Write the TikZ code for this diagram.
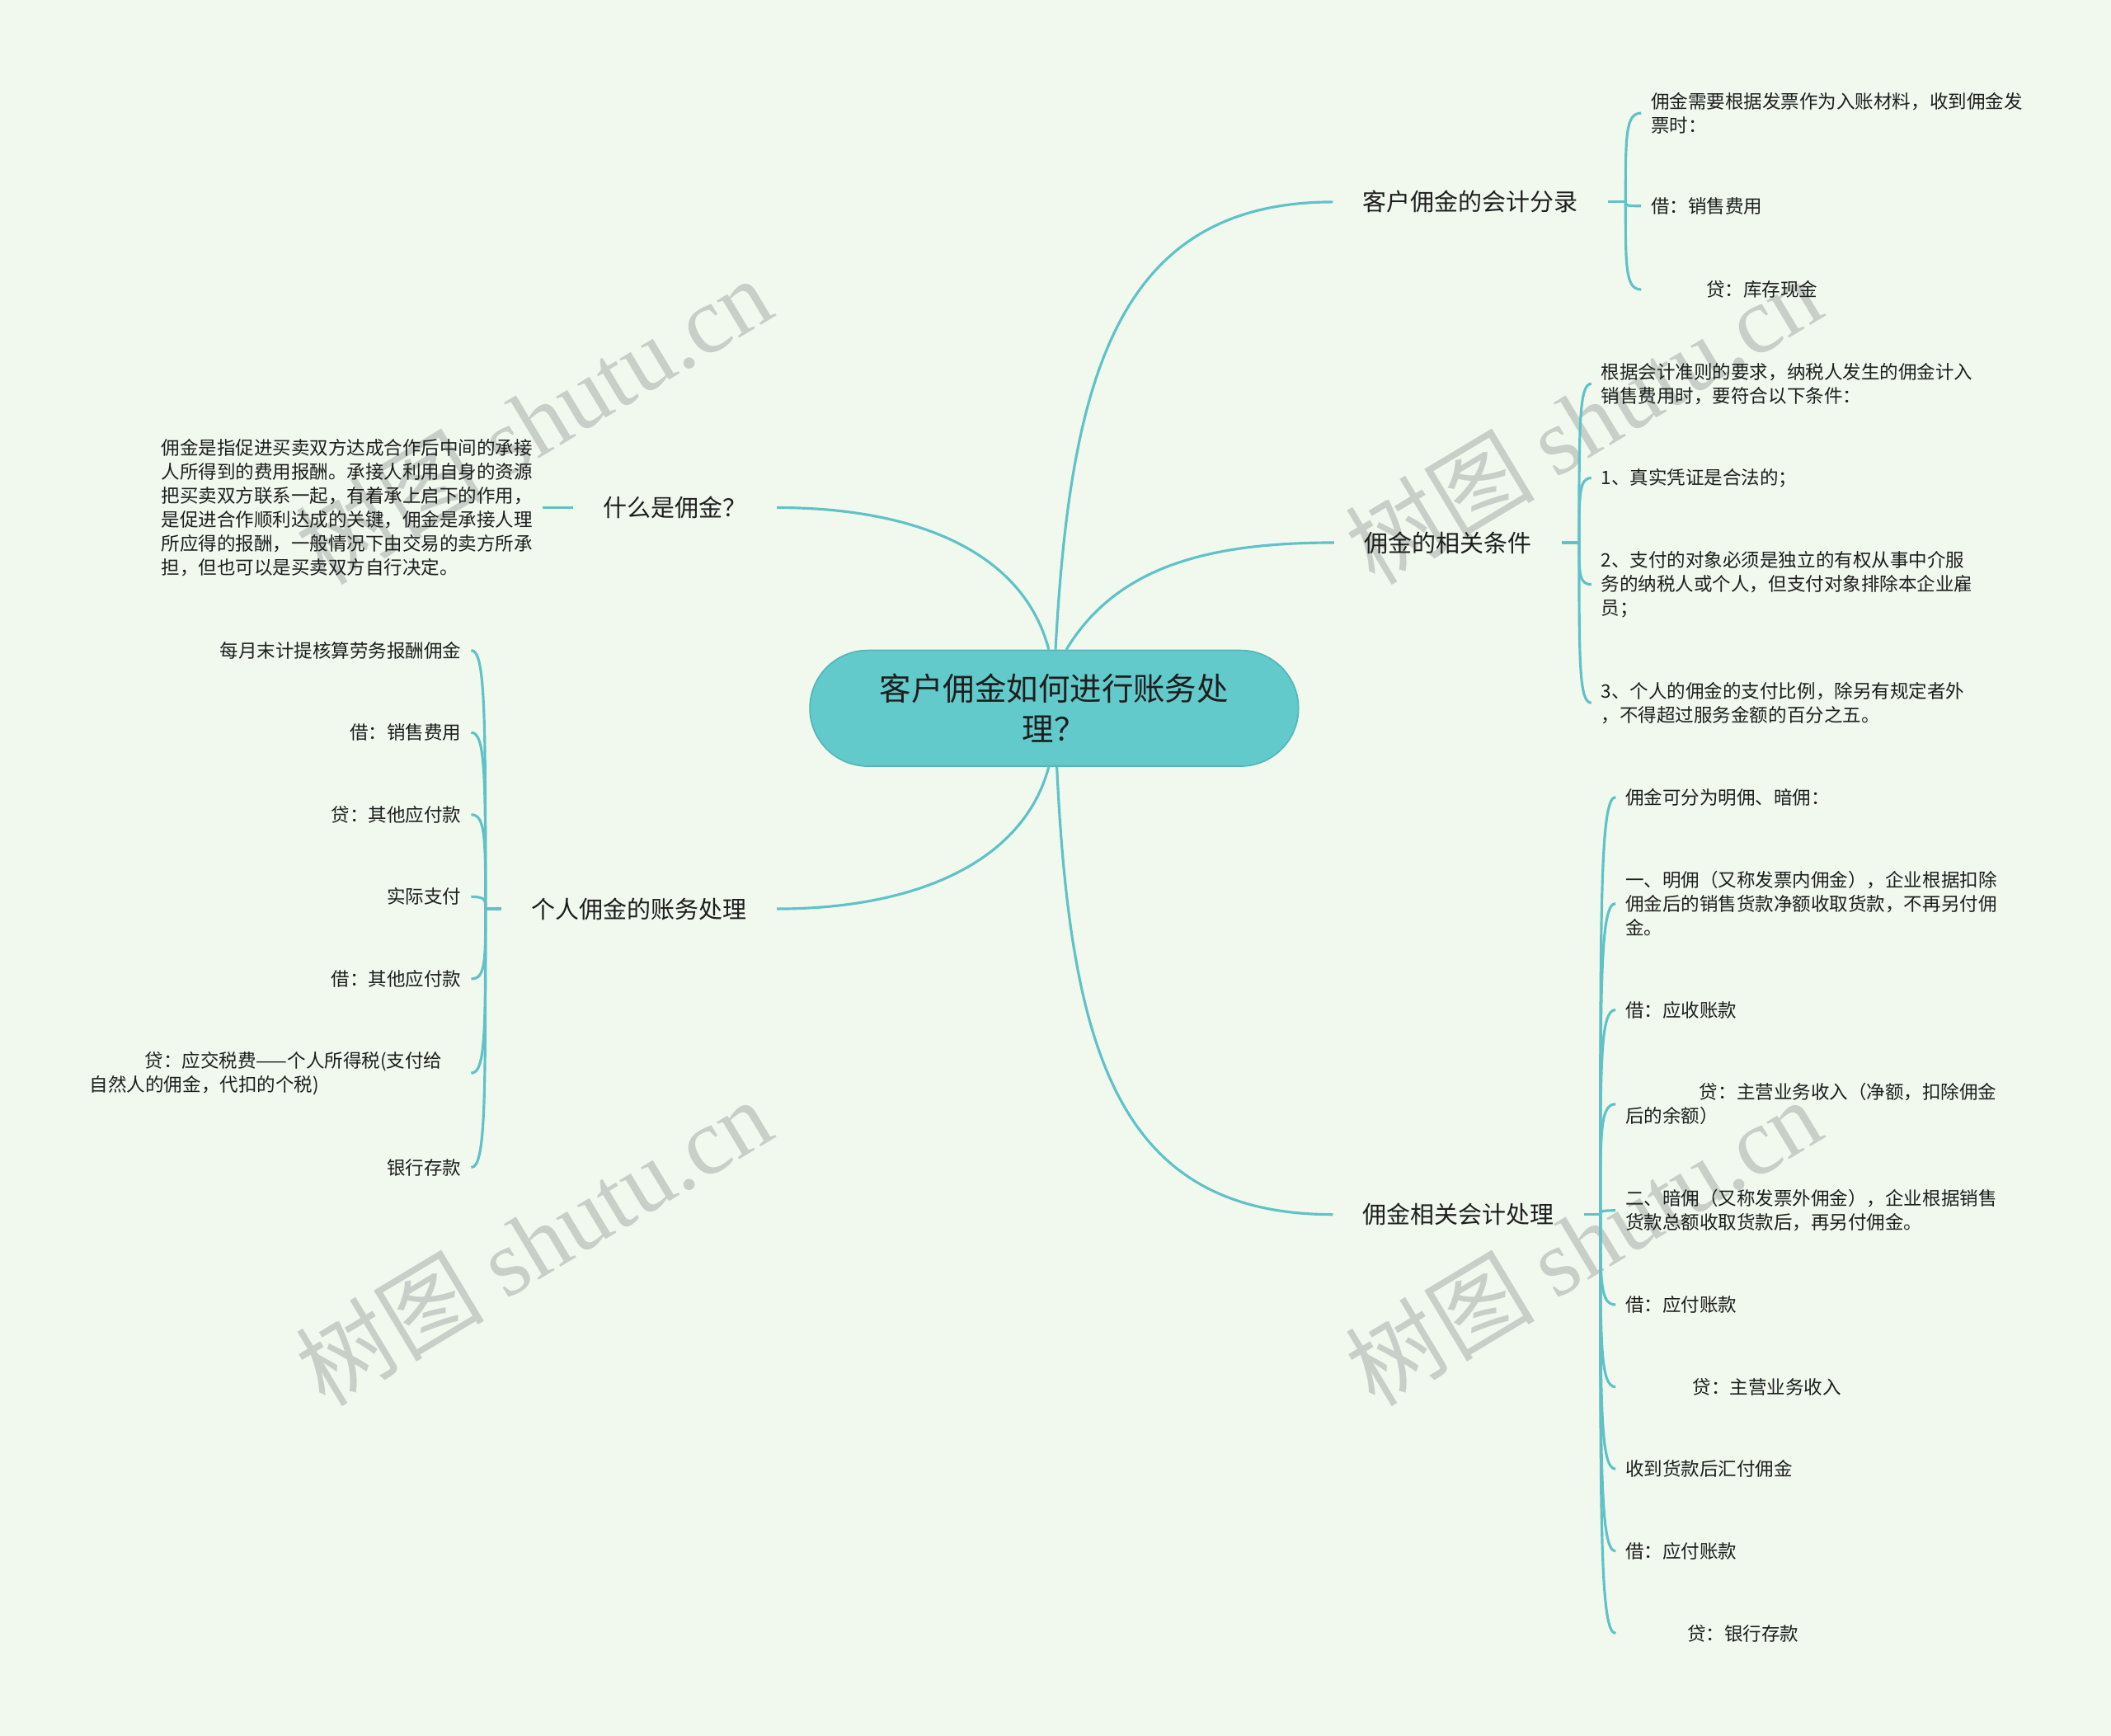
\documentclass[tikz,border=0pt]{standalone}
\usepackage{fontspec}
\setmainfont{Noto Sans CJK SC}
\newfontfamily\marklatin{Liberation Serif}
\usetikzlibrary{calc}
\definecolor{paper}{RGB}{241,249,239}
\definecolor{linkteal}{RGB}{96,194,199}
\definecolor{rootteal}{RGB}{99,202,204}
\definecolor{rootedge}{RGB}{84,182,186}
\definecolor{inkdark}{RGB}{30,30,30}
\definecolor{markgray}{RGB}{200,207,201}
\tikzset{
  map link/.style={line width=1.1pt,draw=linkteal},
  root node/.style={
    rounded corners=0.86cm,
    fill=rootteal,
    draw=rootedge,
    line width=0.6pt,
    minimum width=7.26cm,
    minimum height=1.72cm,
    align=center,
    text=inkdark,
    font=\fontsize{13.4}{17}\selectfont
  },
  topic node/.style={font=\fontsize{10.1}{12}\selectfont,text=inkdark,inner xsep=0.44cm,inner ysep=3pt},
  leaf node/.style={font=\fontsize{7.85}{10.1}\selectfont,text=inkdark,align=left,inner xsep=0.14cm,inner ysep=2pt},
  mark text/.style={text=markgray,rotate=31,inner sep=0pt,font=\fontsize{40}{40}\selectfont}
}
\newcommand{\bracelink}[2]{%
  \draw[map link] (#1) .. controls ($(#1)!0.75!(#1|-#2)$) and (#1|-#2) .. (#2);%
}

\begin{document}
\begin{tikzpicture}[x=0.02cm,y=-0.02cm]
  \fill[paper] (0,0) rectangle (1568,1289);
  \useasboundingbox (0,0) rectangle (1568,1289);

  % watermarks
  \node[mark text] (wm-1) at (396,312) {树图 {\marklatin shutu.cn}};
  \node[mark text] (wm-2) at (396,922) {树图 {\marklatin shutu.cn}};
  \node[mark text] (wm-3) at (1176,312) {树图 {\marklatin shutu.cn}};
  \node[mark text] (wm-4) at (1176,922) {树图 {\marklatin shutu.cn}};

  \node[root node] (root) at (783,526) {客户佣金如何进行账务处\\理？};

  \node[topic node,anchor=west] (entry) at (990,150) {客户佣金的会计分录};
  \node[topic node,anchor=west] (cond) at (991,403) {佣金的相关条件};
  \node[topic node,anchor=west] (hand) at (990,902) {佣金相关会计处理};
  \node[topic node,anchor=east] (what) at (577,377) {什么是佣金？};
  \node[topic node,anchor=east] (pers) at (577,675) {个人佣金的账务处理};

  \draw[map link] ($(root.north)+(-4,0)$) .. controls +(-19,-73) and +(103,0) .. (what.east);
  \draw[map link] ($(root.north)+(1,0)$) .. controls +(11,-203) and +(-160,0) .. (entry.west);
  \draw[map link] ($(root.north)+(9,0)$) .. controls +(38,-63) and +(-91,0) .. (cond.west);
  \draw[map link] ($(root.south)+(-4,0)$) .. controls +(-19,71) and +(103,0) .. (pers.east);
  \draw[map link] ($(root.south)+(2,0)$) .. controls +(10,211) and +(-160,0) .. (hand.west);

  % what
  \node[leaf node,anchor=east] (what-1) at (403,377) {佣金是指促进买卖双方达成合作后中间的承接\\人所得到的费用报酬。承接人利用自身的资源\\把买卖双方联系一起，有着承上启下的作用，\\是促进合作顺利达成的关键，佣金是承接人理\\所应得的报酬，一般情况下由交易的卖方所承\\担，但也可以是买卖双方自行决定。};
  \draw[map link] (what.west) -- (what-1.east);

  % entry
  \draw[map link] (entry.east) -- ++(13,0) coordinate (entry-j);
  \node[leaf node,anchor=west] (entry-1) at (1219,84) {佣金需要根据发票作为入账材料，收到佣金发\\票时：};
  \node[leaf node,anchor=west] (entry-2) at (1219,153) {借：销售费用};
  \node[leaf node,anchor=west] (entry-3) at (1219,215) {\hspace*{0.82cm}贷：库存现金};
  \foreach \k in {1,...,3} {\bracelink{entry-j}{entry-\k.west}}

  % cond
  \draw[map link] (cond.east) -- ++(13,0) coordinate (cond-j);
  \node[leaf node,anchor=west] (cond-1) at (1182,285) {根据会计准则的要求，纳税人发生的佣金计入\\销售费用时，要符合以下条件：};
  \node[leaf node,anchor=west] (cond-2) at (1182,355) {1、真实凭证是合法的；};
  \node[leaf node,anchor=west] (cond-3) at (1182,434) {2、支付的对象必须是独立的有权从事中介服\\务的纳税人或个人，但支付对象排除本企业雇\\员；};
  \node[leaf node,anchor=west] (cond-4) at (1182,522) {3、个人的佣金的支付比例，除另有规定者外\\，不得超过服务金额的百分之五。};
  \foreach \k in {1,...,4} {\bracelink{cond-j}{cond-\k.west}}

  % hand
  \draw[map link] (hand.east) -- ++(12,0) coordinate (hand-j);
  \node[leaf node,anchor=west] (hand-1) at (1200,592) {佣金可分为明佣、暗佣：};
  \node[leaf node,anchor=west] (hand-2) at (1200,671) {一、明佣（又称发票内佣金），企业根据扣除\\佣金后的销售货款净额收取货款，不再另付佣\\金。};
  \node[leaf node,anchor=west] (hand-3) at (1200,750) {借：应收账款};
  \node[leaf node,anchor=west] (hand-4) at (1200,820) {\hspace*{1.1cm}贷：主营业务收入（净额，扣除佣金\\后的余额）};
  \node[leaf node,anchor=west] (hand-5) at (1200,899) {二、暗佣（又称发票外佣金），企业根据销售\\货款总额收取货款后，再另付佣金。};
  \node[leaf node,anchor=west] (hand-6) at (1200,969) {借：应付账款};
  \node[leaf node,anchor=west] (hand-7) at (1200,1030) {\hspace*{1.0cm}贷：主营业务收入};
  \node[leaf node,anchor=west] (hand-8) at (1200,1091) {收到货款后汇付佣金};
  \node[leaf node,anchor=west] (hand-9) at (1200,1152) {借：应付账款};
  \node[leaf node,anchor=west] (hand-10) at (1200,1213) {\hspace*{0.92cm}贷：银行存款};
  \foreach \k in {1,...,10} {\bracelink{hand-j}{hand-\k.west}}

  % pers
  \draw[map link] (pers.west) -- ++(-12,0) coordinate (pers-j);
  \node[leaf node,anchor=east] (pers-1) at (350,483) {每月末计提核算劳务报酬佣金};
  \node[leaf node,anchor=east] (pers-2) at (350,544) {借：销售费用};
  \node[leaf node,anchor=east] (pers-3) at (350,605) {贷：其他应付款};
  \node[leaf node,anchor=east] (pers-4) at (350,666) {实际支付};
  \node[leaf node,anchor=east] (pers-5) at (350,727) {借：其他应付款};
  \node[leaf node,anchor=east,text width=5.52cm] (pers-6) at (350,797) {\hspace*{0.82cm}贷：应交税费——个人所得税(支付给\\自然人的佣金，代扣的个税)};
  \node[leaf node,anchor=east] (pers-7) at (350,867) {银行存款};
  \foreach \k in {1,...,7} {\bracelink{pers-j}{pers-\k.east}}
\end{tikzpicture}
\end{document}
